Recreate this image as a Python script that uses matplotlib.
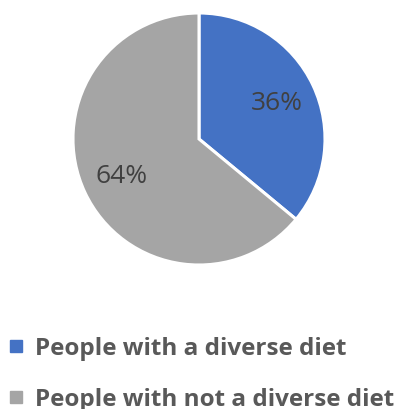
import matplotlib
matplotlib.use("Agg")
import matplotlib.pyplot as plt
from matplotlib.lines import Line2D

# diet diversity shares
labels = ["People with a diverse diet", "People with not a diverse diet"]
shares = [36, 64]
colors = ["#4472C4", "#A5A5A5"]

W, H = 401, 410
fig = plt.figure(figsize=(W / 100, H / 100), dpi=100)

# pie centred at (199, 140) px, radius 126 px
cx, cy, r = 199, 140, 126
ax = fig.add_axes([(cx - r) / W, (H - cy - r) / H, 2 * r / W, 2 * r / H])
wedges, texts, autotexts = ax.pie(
    shares, colors=colors, startangle=90, counterclock=False,
    autopct="%d%%", pctdistance=0.68, radius=1,
    wedgeprops=dict(edgecolor="white", linewidth=2.2),
    textprops=dict(fontsize=19, color="#404040", family="Open Sans"),
)
ax.set_xlim(-1, 1)
ax.set_ylim(-1, 1)
ax.set_aspect("equal")
ax.axis("off")

handles = [Line2D([], [], marker="s", linestyle="none", markersize=8,
                  markerfacecolor=c, markeredgecolor=c) for c in colors]
leg = fig.legend(handles, labels, loc="upper left",
                 bbox_to_anchor=(0.0, 1 - 330 / H), frameon=False,
                 prop=dict(family="Open Sans", weight="bold", size=17.5),
                 labelcolor="#595959", handlelength=0.7, handletextpad=0.45,
                 labelspacing=1.1, borderaxespad=0, borderpad=0.3)

fig.savefig("out.png", dpi=100)
